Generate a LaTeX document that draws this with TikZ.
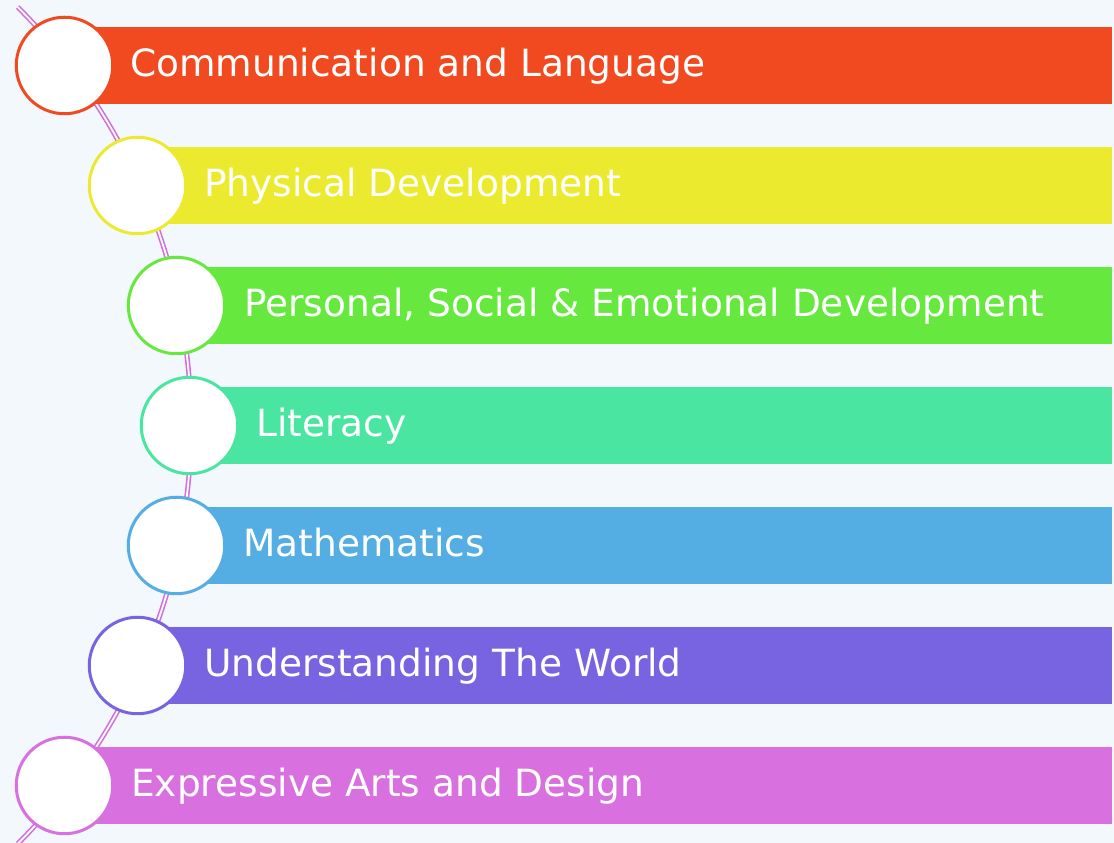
\documentclass[tikz,border=0pt]{standalone}
\usepackage{fontspec}
\setmainfont{DejaVu Sans}
\definecolor{bg}{HTML}{F3F8FC}
\definecolor{cA}{HTML}{F14A20}
\definecolor{cB}{HTML}{ECEA2E}
\definecolor{cC}{HTML}{66E83F}
\definecolor{cD}{HTML}{4BE5A2}
\definecolor{cE}{HTML}{55AEE3}
\definecolor{cF}{HTML}{7863E0}
\definecolor{cG}{HTML}{D870DF}
\definecolor{arcc}{HTML}{D36EDF}
\tikzset{
  bar/.style={fill=#1, draw=none},
  dot/.style={circle, draw=#1, line width=3pt, fill=white, minimum size=96.5pt, inner sep=0pt},
  lbl/.style={anchor=base west, text=white, inner sep=0pt, font=\fontsize{37.5}{42}\selectfont},
  spine/.style={draw=arcc, line width=1.6pt, double=white, double distance=1.8pt}
}
\begin{document}
\begin{tikzpicture}[x=1pt,y=1pt]
\useasboundingbox (0,0) rectangle (1114,843);
\fill[bg] (0,0) rectangle (1114,843);
% spine arc
\coordinate (arcstart) at (17.8,835.8);
\draw[spine] (arcstart) arc[start angle=45, end angle=-45, radius=591.5];
% bars
\foreach \i/\cx/\col in {0/64.5/cA,1/137.5/cB,2/176.5/cC,3/189.5/cD,4/176.5/cE,5/137.5/cF,6/64.5/cG}{
  \fill[bar=\col] (\cx,{816-120*\i}) rectangle (1112,{739-120*\i});
}
% circles
\node[dot=cA] (c1) at (64.5,777.5) {};
\node[dot=cB] (c2) at (137.5,657.5) {};
\node[dot=cC] (c3) at (176.5,537.5) {};
\node[dot=cD] (c4) at (189.5,417.5) {};
\node[dot=cE] (c5) at (176.5,297.5) {};
\node[dot=cF] (c6) at (137.5,177.5) {};
\node[dot=cG] (c7) at (64.5,57.5) {};
% labels
\node[lbl] (t1) at (130,766) {Communication and Language};
\node[lbl] (t2) at (204,646) {Physical Development};
\node[lbl] (t3) at (244,526) {Personal, Social \& Emotional Development};
\node[lbl] (t4) at (256,406) {Literacy};
\node[lbl] (t5) at (243,286) {Mathematics};
\node[lbl] (t6) at (204,166) {Understanding The World};
\node[lbl] (t7) at (131,46) {Expressive Arts and Design};
\end{tikzpicture}
\end{document}
